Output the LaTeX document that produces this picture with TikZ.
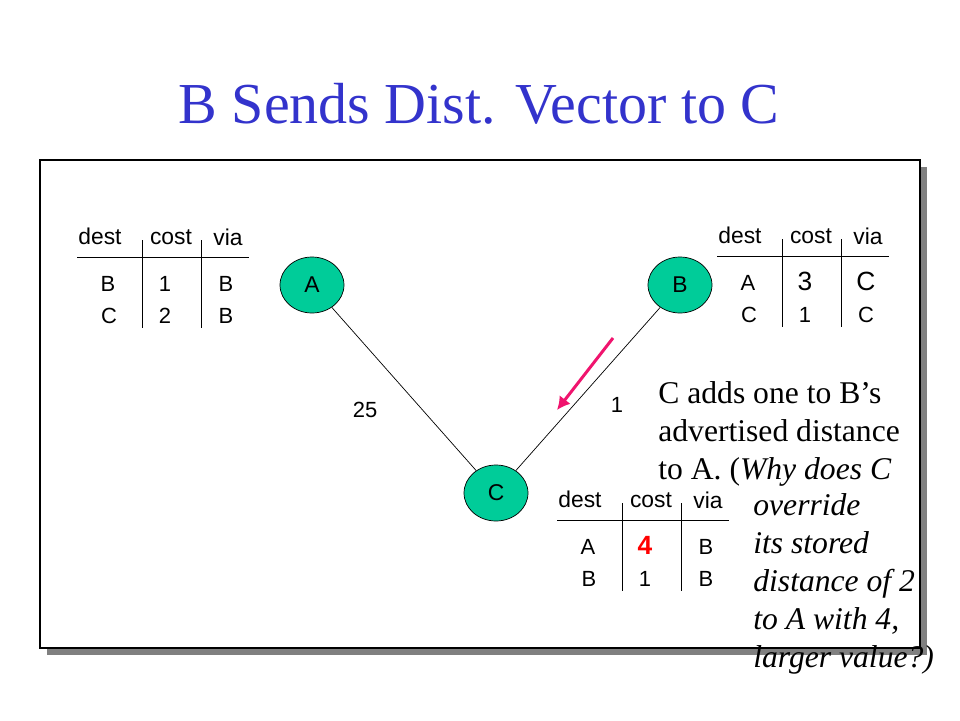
\documentclass[tikz,border=0pt]{standalone}
\usepackage{fontspec}
\setmainfont{Liberation Serif}
\setsansfont{Liberation Sans}
\usepackage{xcolor}
\usepackage{tikz}
\usetikzlibrary{shapes.geometric,arrows.meta,positioning,calc}

\definecolor{titleblue}{RGB}{51,51,204}
\definecolor{nodegreen}{RGB}{0,204,153}
\definecolor{msgpink}{RGB}{240,20,110}

% routing table: name, x, y, then the two rows (dest, cost, via)
\newcommand{\rtab}[9]{%
  \begin{scope}[shift={(#2,#3)}]
    \draw (0,0) -- (172,0);
    \draw (65,-17) -- (65,71) (124,-17) -- (124,71);
    \node[head] (#1hd) at (23,-13) {dest};
    \node[head] (#1hc) at (94,-13) {cost};
    \node[head] (#1hv) at (151,-12) {via};
    \node[entry] (#1d1) at (31,34) {#4};
    \node[entry] (#1c1) at (88,34) {#5};
    \node[entry] (#1v1) at (149,34) {#6};
    \node[entry] (#1d2) at (32,66) {#7};
    \node[entry] (#1c2) at (88,66) {#8};
    \node[entry] (#1v2) at (149,66) {#9};
  \end{scope}}

\begin{document}
\begin{tikzpicture}[
        x=0.02cm, y=-0.02cm,
        router/.style={ellipse, draw, fill=nodegreen, minimum width=1.28cm,
            minimum height=1.12cm, inner sep=0pt, font=\sffamily\fontsize{13}{15}\selectfont},
        head/.style={anchor=base, inner sep=0pt, font=\sffamily\fontsize{13}{15}\selectfont},
        entry/.style={anchor=base, inner sep=0pt, font=\sffamily\fontsize{12.5}{15}\selectfont},
        cost/.style={inner sep=0pt, font=\sffamily\fontsize{12.5}{15}\selectfont},
        big/.style={font=\sffamily\fontsize{15}{18}\selectfont},
        note/.style={anchor=north west, inner sep=0pt, align=left,
            font=\fontsize{18}{21.6}\selectfont}
    ]
    \useasboundingbox (0,0) rectangle (960,720);

    \node[anchor=base, text=titleblue, font=\fontsize{33}{40}\selectfont] (title) at (479,123)
        {B Sends Dist. Vector to C};

    % framed panel with shadow
    \fill[gray] (47,167) rectangle (927,655);
    \draw[fill=white, line width=0.8pt] (40,160) rectangle (920,648);

    \node[router] (A) at (312,285) {A};
    \node[router] (B) at (680,285) {B};
    \node[router] (C) at (496,493) {C};

    \draw[line width=0.4pt] (A) -- (C);
    \draw[line width=0.4pt] (B) -- (C);
    \node[cost] (costAC) at (365,410) {25};
    \node[cost] (costBC) at (617,405) {1};

    % B's vector travelling to C
    \coordinate (msgS) at (613,338);
    \coordinate (msgE) at (557,410);
    \draw[msgpink, line width=1.7pt, -{Latex[length=2.6mm,width=2.8mm]}] (msgS) -- (msgE);

    \rtab{ta}{77}{257}{B}{1}{B}{C}{2}{B}
    \rtab{tb}{717}{256}{A}{\fontsize{15}{18}\selectfont 3}{\fontsize{15}{18}\selectfont C}{C}{1}{C}
    \rtab{tc}{557}{520}{A}{\textcolor{red}{\bfseries\fontsize{15}{18}\selectfont 4}}{B}{B}{1}{B}

    \node[note] (explain) at (658,381)
        {C adds one to B’s\\advertised distance\\to A. (\textit{Why does C}};
    \node[note, font=\itshape\fontsize{18}{21.6}\selectfont] (why) at (753,493)
        {override\\its stored\\distance of 2\\to A with 4,\\larger value?)};
\end{tikzpicture}
\end{document}
